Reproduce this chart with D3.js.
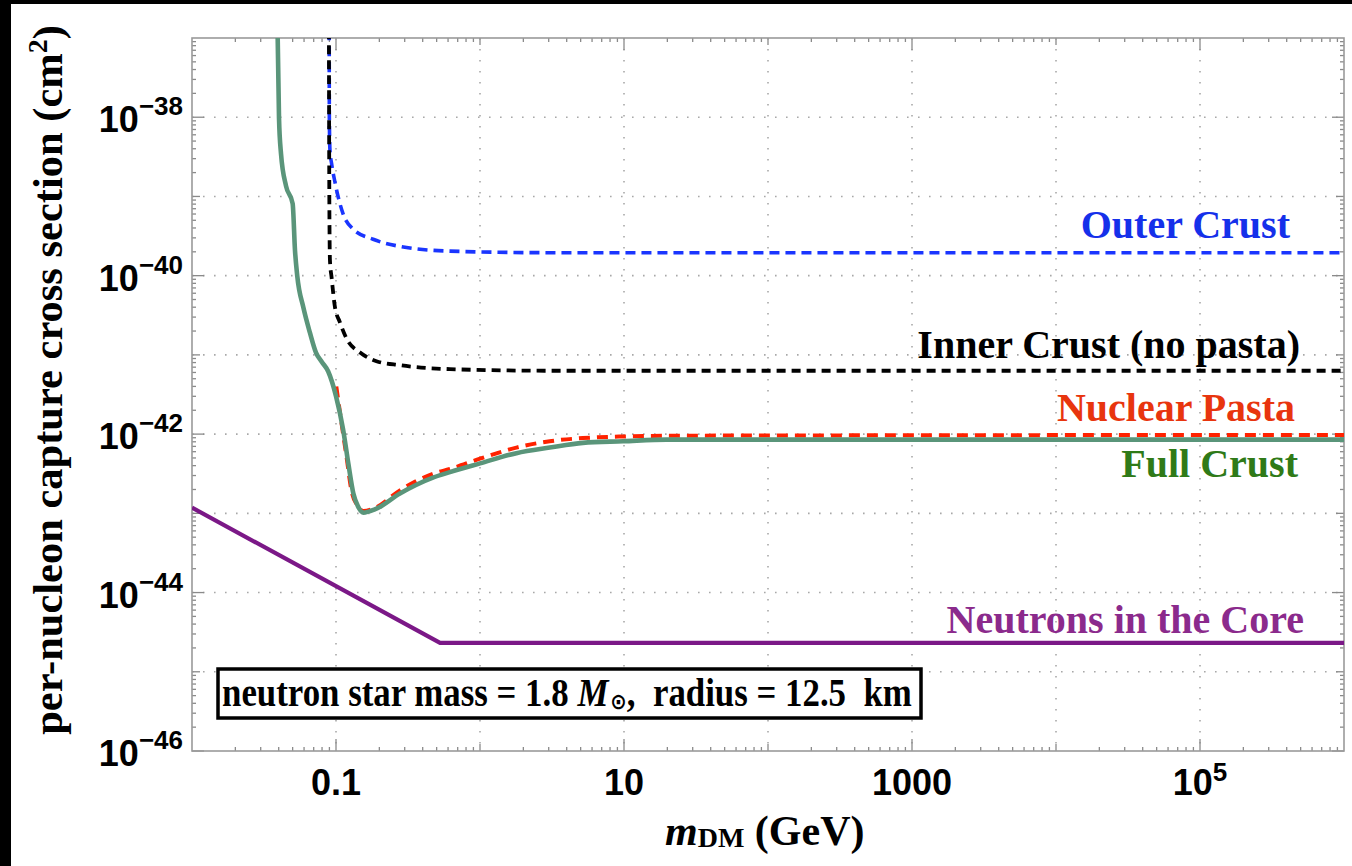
<!DOCTYPE html>
<html>
<head>
<meta charset="utf-8">
<script src="https://cdn.jsdelivr.net/npm/d3@7"></script>
<style>
html,body{margin:0;padding:0;background:#000;}
svg{display:block;}
</style>
</head>
<body>
<svg id="chart" width="1352" height="866"></svg>
<script>
// ---------------- data ----------------
const fullCrustMass = [0.0392,0.0402,0.0415,0.0450,0.0500,0.0519,0.0538,0.0593,0.0659,0.0726,0.0798,0.0883,0.100,0.112,0.122,0.132,0.142,0.155,0.186,0.278,0.471,0.618,1.0,1.79,3.05,5.18,9.86,19.7,43.9,1e6];
const fullCrustSigma = [1.58e-37,9.77e-39,3.47e-39,1.35e-39,8.13e-40,2.09e-40,1.0e-40,3.98e-41,1.91e-41,1.07e-41,8.13e-42,6.17e-42,3.02e-42,1.15e-42,4.17e-43,1.78e-43,1.23e-43,1.02e-43,1.12e-43,1.78e-43,2.82e-43,3.31e-43,4.27e-43,5.75e-43,6.76e-43,7.76e-43,8.13e-43,8.51e-43,8.51e-43,8.51e-43];

const pastaMass = [0.1005,0.108,0.118,0.128,0.142,0.155,0.186,0.278,0.471,0.618,1.0,1.79,3.05,5.18,9.86,25.6,1e6];
const pastaSigma = [3.98e-42,1.58e-42,5.37e-43,1.95e-43,1.23e-43,1.07e-43,1.17e-43,1.95e-43,3.16e-43,3.63e-43,4.90e-43,6.76e-43,8.13e-43,8.91e-43,9.33e-43,9.55e-43,9.77e-43];

const outerMass = [0.0897,0.0899,0.0908,0.0933,0.0984,0.112,0.131,0.181,0.278,0.618,3.05,1e6];
const outerSigma = [1.26e-37,9.77e-39,3.80e-39,2.57e-39,1.51e-39,6.03e-40,3.89e-40,2.88e-40,2.34e-40,2.04e-40,1.95e-40,1.95e-40];

const innerMass = [0.0893,0.0899,0.0908,0.0933,0.0984,0.106,0.119,0.147,0.191,0.278,0.618,3.05,1e6];
const innerSigma = [1.26e-37,8.91e-40,1.55e-40,9.33e-41,3.98e-41,2.63e-41,1.58e-41,1.07e-41,8.32e-42,7.41e-42,6.61e-42,6.31e-42,6.31e-42];

const coreMass = [0.01,0.528,1e6];
const coreSigma = [1.18e-43,2.32e-45,2.32e-45];

const xTickValues = [0.1,10,1000,1e5];
const xTickBase = ["0.1","10","1000","10"];
const xTickSup = ["","","","5"];
const yTickValues = [1e-38,1e-40,1e-42,1e-44,1e-46];
const yTickSup = ["\u221238","\u221240","\u221242","\u221244","\u221246"];

const seriesLabels = ["Outer Crust","Inner Crust (no pasta)","Nuclear Pasta","Full Crust","Neutrons in the Core"];

// ---------------- layout ----------------
const svg = d3.select("#chart");
const W = 1352, H = 866;
const L = 192, R = 1344, T = 38, B = 751;

svg.append("rect").attr("x",0).attr("y",0).attr("width",W).attr("height",H).attr("fill","#000");
svg.append("rect").attr("x",11).attr("y",4).attr("width",W-11).attr("height",H-4).attr("fill","#fff");

const x = d3.scaleLog().domain([0.01,1e6]).range([L,R]);
const y = d3.scaleLog().domain([1e-46,1e-37]).range([B,T]);

svg.append("defs").append("clipPath").attr("id","clip")
  .append("rect").attr("x",L).attr("y",T).attr("width",R-L).attr("height",B-T);

// grid
const decadesX = d3.range(-1,6).map(e=>Math.pow(10,e));
const decadesY = d3.range(-45,-37).map(e=>Math.pow(10,e));
const grid = svg.append("g");
grid.selectAll("line.gx").data(decadesX).join("line")
  .attr("x1",d=>x(d)).attr("x2",d=>x(d)).attr("y1",T).attr("y2",B)
  .attr("stroke","#a8a8a8").attr("stroke-width",1.6).attr("stroke-dasharray","1.6,9.4");
grid.selectAll("line.gy").data(decadesY).join("line")
  .attr("y1",d=>y(d)).attr("y2",d=>y(d)).attr("x1",L).attr("x2",R)
  .attr("stroke","#a8a8a8").attr("stroke-width",1.6).attr("stroke-dasharray","1.6,9.4");

// ticks
const tickG = svg.append("g").attr("stroke","#8a8a8a").attr("stroke-width",1.3);
function addTicksX(values, len){
  values.forEach(v=>{
    tickG.append("line").attr("x1",x(v)).attr("x2",x(v)).attr("y1",B).attr("y2",B-len);
    tickG.append("line").attr("x1",x(v)).attr("x2",x(v)).attr("y1",T).attr("y2",T+len);
  });
}
function addTicksY(values, len){
  values.forEach(v=>{
    tickG.append("line").attr("y1",y(v)).attr("y2",y(v)).attr("x1",L).attr("x2",L+len);
    tickG.append("line").attr("y1",y(v)).attr("y2",y(v)).attr("x1",R).attr("x2",R-len);
  });
}
const minorX = [], minorY = [];
d3.range(-2,6).forEach(e=>{ for(let k=2;k<10;k++) minorX.push(k*Math.pow(10,e)); });
d3.range(-46,-37).forEach(e=>{ for(let k=2;k<10;k++) minorY.push(k*Math.pow(10,e)); });
addTicksX(minorX,4);
addTicksY(minorY,4);
addTicksX(decadesX.filter(d=>!xTickValues.includes(d)),7);
addTicksY(decadesY.filter(d=>!yTickValues.includes(d)),8);
addTicksX(xTickValues,12);
addTicksY(yTickValues,12);

// frame
svg.append("rect").attr("x",L).attr("y",T).attr("width",R-L).attr("height",B-T)
  .attr("fill","none").attr("stroke","#9a9a9a").attr("stroke-width",1.6);

// lines
const line = d3.line().x(d=>x(d[0])).y(d=>y(d[1])).curve(d3.curveMonotoneX);
const lineLin = d3.line().x(d=>x(d[0])).y(d=>y(d[1]));
const plot = svg.append("g").attr("clip-path","url(#clip)");
const zip = (a,b)=>a.map((v,i)=>[v,b[i]]);

plot.append("path").attr("d",lineLin(zip(coreMass,coreSigma)))
  .attr("fill","none").attr("stroke","#7b1887").attr("stroke-width",4.2);
plot.append("path").attr("d",line(zip(outerMass,outerSigma)))
  .attr("fill","none").attr("stroke","#1a35ff").attr("stroke-width",3.6).attr("stroke-dasharray","10,6");
plot.append("path").attr("d",line(zip(innerMass,innerSigma)))
  .attr("fill","none").attr("stroke","#000").attr("stroke-width",3.8).attr("stroke-dasharray","9,6");
plot.append("path").attr("d",line(zip(pastaMass,pastaSigma)))
  .attr("fill","none").attr("stroke","#ff2200").attr("stroke-width",4).attr("stroke-dasharray","11,7");
plot.append("path").attr("d",line(zip(fullCrustMass,fullCrustSigma)))
  .attr("fill","none").attr("stroke","#5a957a").attr("stroke-width",4.6);

// tick labels
const sans = "'Liberation Sans', Arial, sans-serif";
const serif = "'Liberation Serif', 'Times New Roman', serif";
xTickValues.forEach((v,i)=>{
  const t = svg.append("text").attr("x",x(v)).attr("y",795).attr("text-anchor","middle")
    .attr("font-family",sans).attr("font-weight","bold").attr("font-size",36).attr("fill","#000");
  t.append("tspan").text(xTickBase[i]);
  if(xTickSup[i]) t.append("tspan").attr("dy",-14).attr("font-size",26).text(xTickSup[i]);
});
yTickValues.forEach((v,i)=>{
  const t = svg.append("text").attr("x",183).attr("y",y(v)+15).attr("text-anchor","end")
    .attr("font-family",sans).attr("font-weight","bold").attr("font-size",36).attr("fill","#000");
  t.append("tspan").text("10");
  t.append("tspan").attr("dy",-17).attr("font-size",26).text(yTickSup[i]);
});

// axis titles
const xt = svg.append("text").attr("x",665).attr("y",845)
  .attr("font-family",serif).attr("font-weight","bold").attr("font-size",42).attr("fill","#000");
xt.append("tspan").attr("font-style","italic").text("m");
xt.append("tspan").attr("font-size",28).attr("dy",2).text("DM");
xt.append("tspan").attr("dy",-2).text(" (GeV)");

const yt = svg.append("text").attr("transform","translate(62,380) rotate(-90)")
  .attr("text-anchor","middle").attr("font-family",serif).attr("font-weight","bold")
  .attr("font-size",42.5).attr("fill","#000");
yt.append("tspan").text("per-nucleon capture cross section (cm");
yt.append("tspan").attr("font-size",28).attr("dy",-15).text("2");
yt.append("tspan").attr("dy",15).text(")");

// series labels
const labelSpec = [
  {t:seriesLabels[0], x:1290, y:238, c:"#1530ea"},
  {t:seriesLabels[1], x:1300, y:358, c:"#000"},
  {t:seriesLabels[2], x:1295, y:421, c:"#e8350e"},
  {t:seriesLabels[3], x:1298, y:477, c:"#2f7a18"},
  {t:seriesLabels[4], x:1304, y:633, c:"#8b2a8c"}
];
labelSpec.forEach(s=>{
  svg.append("text").attr("x",s.x).attr("y",s.y).attr("text-anchor","end")
    .attr("font-family",serif).attr("font-weight","bold").attr("font-size",40)
    .attr("fill",s.c).text(s.t);
});

// annotation box
svg.append("rect").attr("x",218).attr("y",669).attr("width",703).attr("height",49)
  .attr("fill","#fff").attr("stroke","#000").attr("stroke-width",3.5);
const boxG = svg.append("g");
const segs = [
  {t:"neutron star mass = 1.8\u00a0", fs:39, style:"normal", dy:0, fam:serif},
  {t:"M", fs:39, style:"italic", dy:0, fam:serif},
  {t:"\u2299", fs:22, style:"normal", dy:3, fam:"'DejaVu Sans', sans-serif"},
  {t:",\u00a0\u00a0radius = 12.5\u00a0\u00a0km", fs:39, style:"normal", dy:0, fam:serif}
];
let cx = 0;
segs.forEach(s=>{
  const n = boxG.append("text").attr("x",cx).attr("y",s.dy)
    .attr("font-family",s.fam).attr("font-weight","bold").attr("font-style",s.style)
    .attr("font-size",s.fs).attr("fill","#000").text(s.t);
  cx += n.node().getComputedTextLength() + (s.style==="italic" ? 2 : 0);
});
const sx = 690 / cx;
boxG.attr("transform",`translate(222,706) scale(${sx},1)`);
</script>
</body>
</html>
